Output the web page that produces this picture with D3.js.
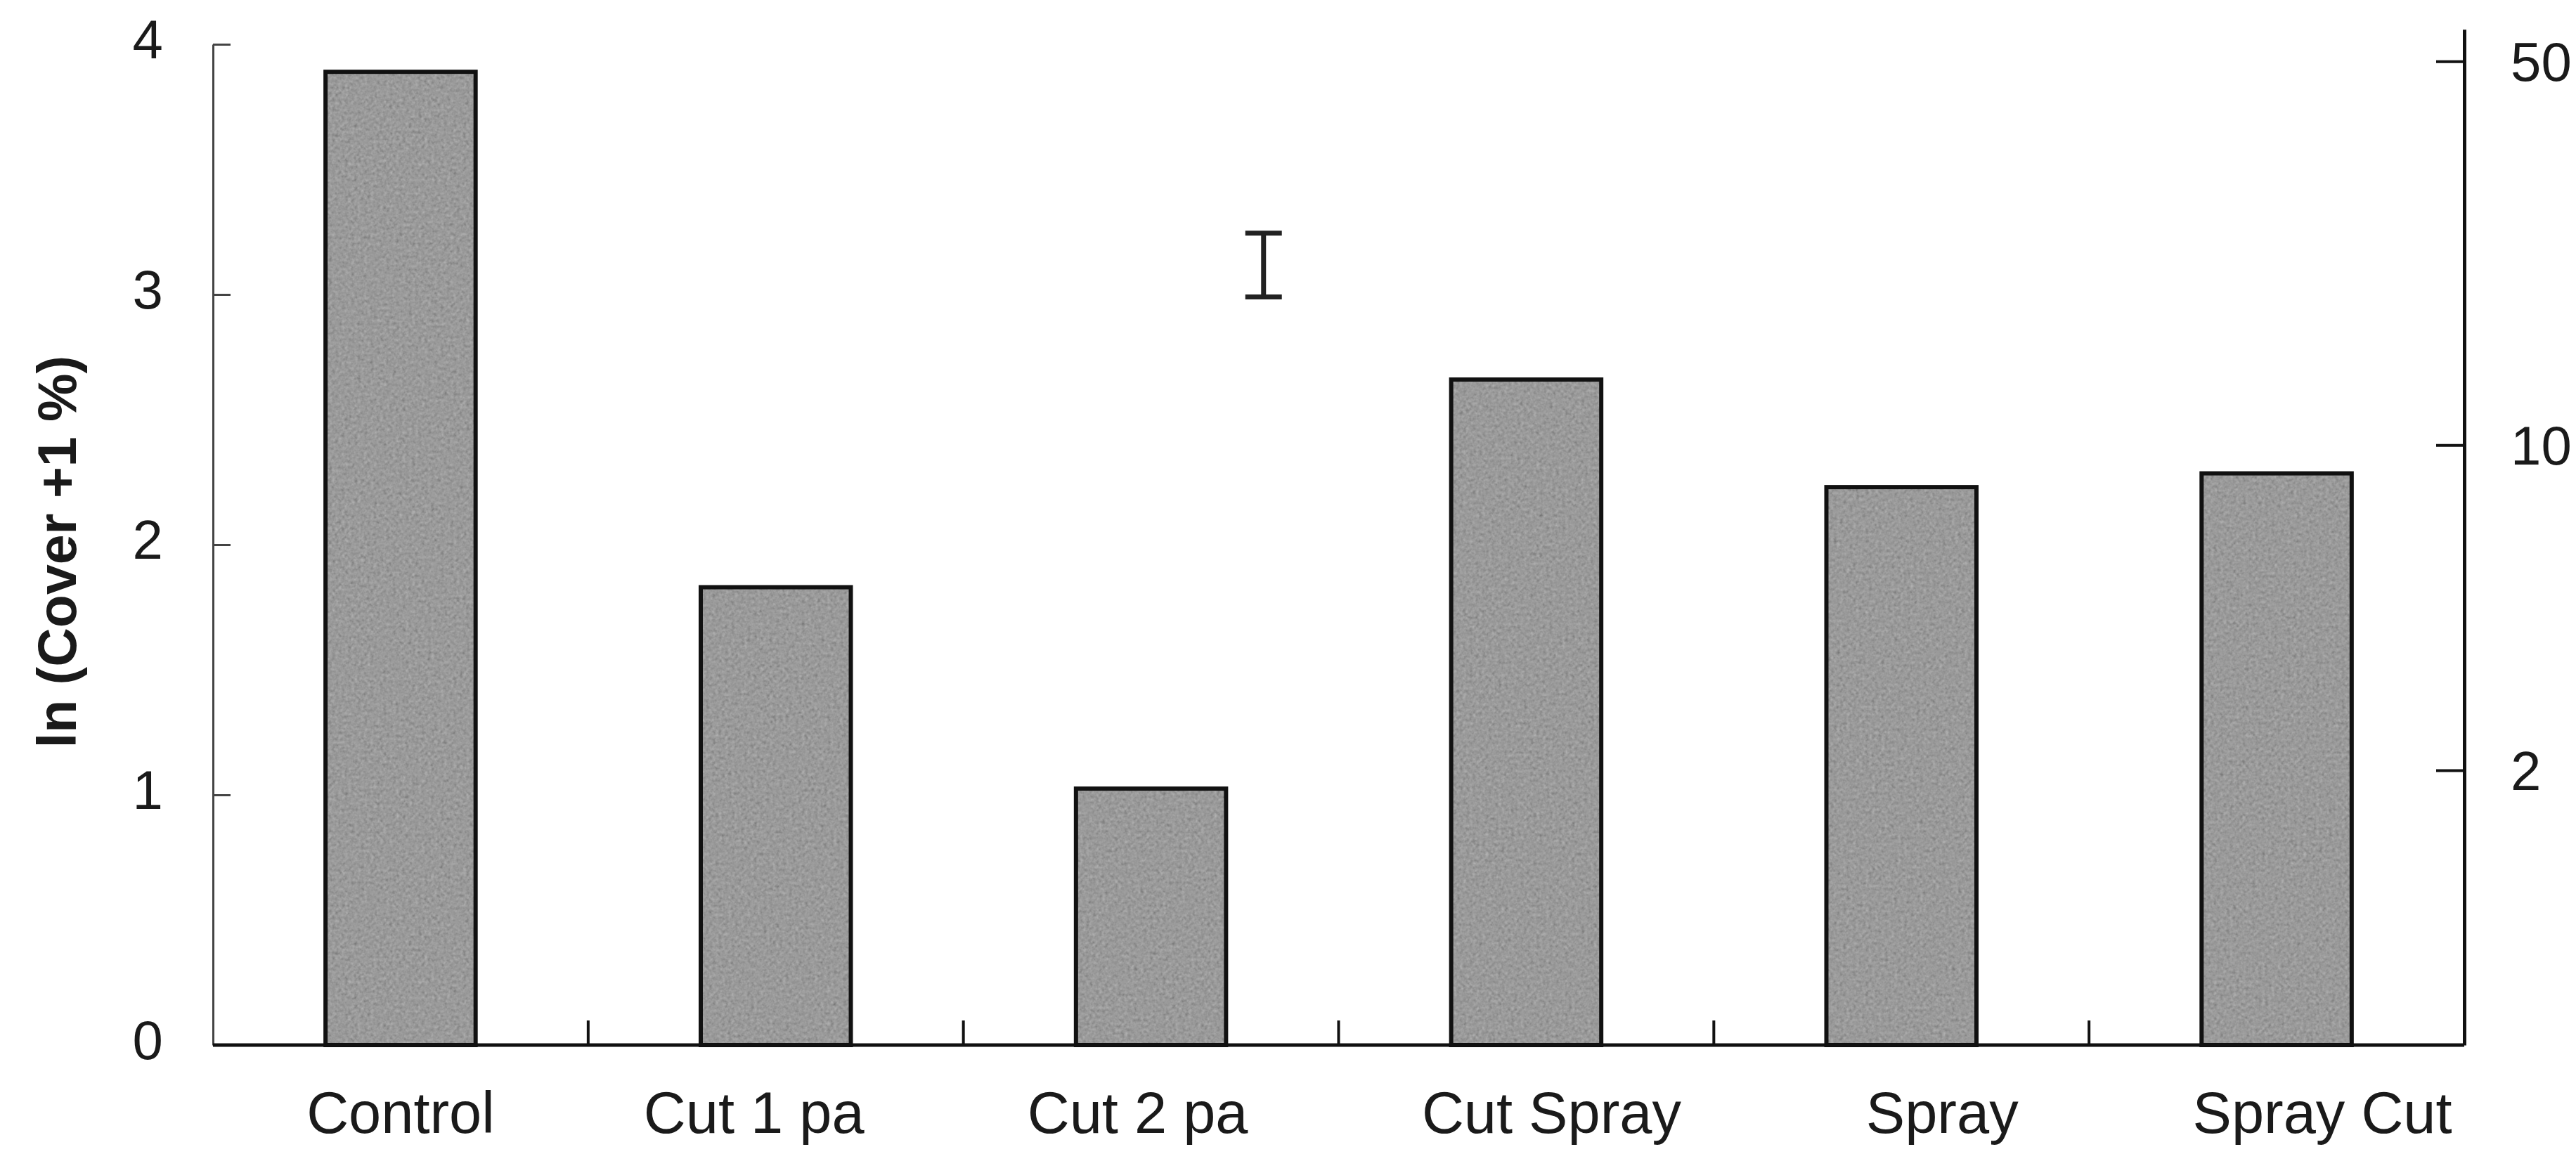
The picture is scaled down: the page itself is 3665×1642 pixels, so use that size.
<!DOCTYPE html>
<html>
<head>
<meta charset="utf-8">
<script src="https://cdn.jsdelivr.net/npm/d3@7"></script>
<style>
  html, body { margin: 0; padding: 0; background: #ffffff; }
  svg { display: block; }
  text { font-family: "Liberation Sans", Arial, sans-serif; fill: #1a1a1a; }
</style>
</head>
<body>
<svg id="chart" width="3665" height="1642"></svg>
<script>
// Treatments and mean ln(cover + 1) per treatment
const categories = ["Control", "Cut 1 pa", "Cut 2 pa", "Cut Spray", "Spray", "Spray Cut"];
const lnCover = [3.89, 1.83, 1.025, 2.66, 2.23, 2.285];

// Left axis ticks (ln scale) and right axis ticks (back-transformed cover %)
const leftTicks = [0, 1, 2, 3, 4];
const rightTicks = [2, 10, 50];

// Reference bar (lower and upper end, ln units)
const errorBar = [2.99, 3.245];

const W = 3665, H = 1642;
const left = 303, right = 3506, base = 1487, top4 = 63;

const svg = d3.select("#chart");

// Grain for the bar fill
const defs = svg.append("defs");
const grain = defs.append("filter").attr("id", "grain")
  .attr("x", 0).attr("y", 0).attr("width", 1).attr("height", 1);
grain.append("feTurbulence").attr("type", "fractalNoise")
  .attr("baseFrequency", 0.22).attr("numOctaves", 2).attr("seed", 7).attr("result", "noise");
grain.append("feColorMatrix").attr("in", "noise").attr("type", "matrix")
  .attr("values", "0.33 0.33 0.33 0 0  0.33 0.33 0.33 0 0  0.33 0.33 0.33 0 0  0 0 0 0 1")
  .attr("result", "gray");
grain.append("feComposite").attr("in", "SourceGraphic").attr("in2", "gray")
  .attr("operator", "arithmetic").attr("k1", 0).attr("k2", 1).attr("k3", 0.45).attr("k4", -0.225)
  .attr("result", "mix");
grain.append("feComposite").attr("in", "mix").attr("in2", "SourceGraphic").attr("operator", "in");

const y = d3.scaleLinear().domain([0, 4]).range([base, top4]);
const slot = d3.scaleBand().domain(categories).range([left, right]).padding(0);
const bw = slot.bandwidth();
const barFrac = 0.4;

// Bars
const bars = svg.append("g");
const rows = categories.map((c, i) => ({ c, v: lnCover[i] }));
bars.selectAll("rect.fill").data(rows).join("rect")
  .attr("class", "fill")
  .attr("x", d => slot(d.c) + bw * (1 - barFrac) / 2)
  .attr("width", bw * barFrac)
  .attr("y", d => y(d.v))
  .attr("height", d => y(0) - y(d.v))
  .attr("fill", "#9a9a9a")
  .attr("filter", "url(#grain)");
bars.selectAll("rect.edge").data(rows).join("rect")
  .attr("class", "edge")
  .attr("x", d => slot(d.c) + bw * (1 - barFrac) / 2)
  .attr("width", bw * barFrac)
  .attr("y", d => y(d.v))
  .attr("height", d => y(0) - y(d.v))
  .attr("fill", "none")
  .attr("stroke", "#111")
  .attr("stroke-width", 6);

// Left axis
const gl = svg.append("g").attr("transform", `translate(${left},0)`)
  .call(d3.axisLeft(y).tickValues(leftTicks).tickSizeInner(-25).tickSizeOuter(0).tickPadding(71).tickFormat(d3.format("d")));
gl.select(".domain").attr("stroke", "#444").attr("stroke-width", 3);
gl.selectAll(".tick line").attr("stroke", "#444").attr("stroke-width", 3);
gl.selectAll(".tick text").attr("font-size", 78).attr("dy", "0.25em").attr("fill", "#1a1a1a");

// Right axis: cover % on the same ln(x + 1) scale
const yR = d3.scaleLinear().domain([0, 4.06]).range([y(0), y(4.06)]);
const gr = svg.append("g").attr("transform", `translate(${right},0)`)
  .call(d3.axisRight(yR)
    .tickValues(rightTicks.map(v => Math.log(v + 1)))
    .tickFormat(d => String(Math.round(Math.exp(d) - 1)))
    .tickSizeInner(-40).tickSizeOuter(0).tickPadding(66));
gr.select(".domain").attr("stroke", "#111").attr("stroke-width", 5);
gr.selectAll(".tick line").attr("stroke", "#111").attr("stroke-width", 4);
gr.selectAll(".tick text").attr("font-size", 78).attr("dy", "0.35em").attr("fill", "#1a1a1a");

// Bottom axis with ticks between treatments
const gb = svg.append("g");
gb.append("line").attr("x1", left).attr("x2", right).attr("y1", base).attr("y2", base)
  .attr("stroke", "#111").attr("stroke-width", 5);
gb.selectAll("line.sep").data(categories.slice(1)).join("line")
  .attr("class", "sep")
  .attr("x1", d => slot(d)).attr("x2", d => slot(d))
  .attr("y1", base).attr("y2", base - 35)
  .attr("stroke", "#111").attr("stroke-width", 4);

// Treatment labels, nudged as set in the figure
const labelShift = [0, -31, -19, 36, 58, 65];
gb.selectAll("text.cat").data(categories).join("text")
  .attr("class", "cat")
  .attr("x", (d, i) => slot(d) + bw / 2 + labelShift[i])
  .attr("y", 1612)
  .attr("text-anchor", "middle")
  .attr("font-size", 83)
  .text(d => d);

// Axis title
svg.append("text")
  .attr("transform", "translate(81,785) rotate(-90)")
  .attr("text-anchor", "middle")
  .attr("dominant-baseline", "central")
  .attr("font-size", 77)
  .attr("font-weight", "bold")
  .text("ln (Cover +1 %)");

// Reference bar
const ex = slot("Cut 2 pa") + bw * 0.8;
const eb = svg.append("g").attr("stroke", "#222").attr("stroke-width", 7);
eb.append("line").attr("x1", ex).attr("x2", ex).attr("y1", y(errorBar[0])).attr("y2", y(errorBar[1]));
eb.selectAll("line.cap").data(errorBar).join("line")
  .attr("class", "cap")
  .attr("x1", ex - 26).attr("x2", ex + 26)
  .attr("y1", d => y(d)).attr("y2", d => y(d));
</script>
</body>
</html>
